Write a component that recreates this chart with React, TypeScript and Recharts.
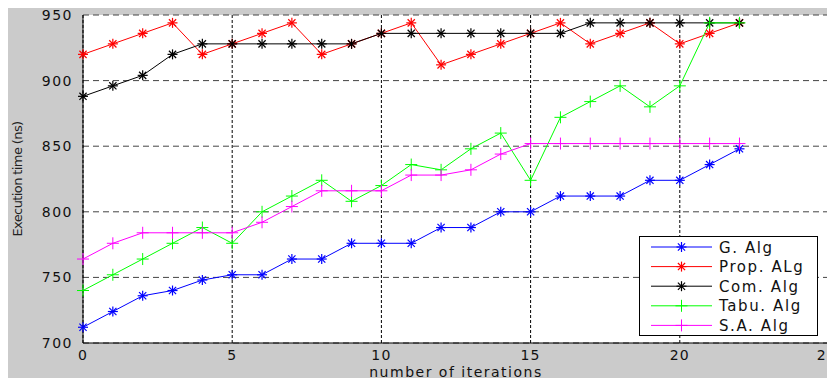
import { CartesianGrid, Line, LineChart, XAxis, YAxis } from "recharts";

const iterations = [0, 1, 2, 3, 4, 5, 6, 7, 8, 9, 10, 11, 12, 13, 14, 15, 16, 17, 18, 19, 20, 21, 22];
const gAlg = [712, 724, 736, 740, 748, 752, 752, 764, 764, 776, 776, 776, 788, 788, 800, 800, 812, 812, 812, 824, 824, 836, 848];
const propAlg = [920, 928, 936, 944, 920, 928, 936, 944, 920, 928, 936, 944, 912, 920, 928, 936, 944, 928, 936, 944, 928, 936, 944];
const comAlg = [888, 896, 904, 920, 928, 928, 928, 928, 928, 928, 936, 936, 936, 936, 936, 936, 936, 944, 944, 944, 944, 944, 944];
const tabuAlg = [740, 752, 764, 776, 788, 776, 800, 812, 824, 808, 820, 836, 832, 848, 860, 824, 872, 884, 896, 880, 896, 944, 944];
const saAlg = [764, 776, 784, 784, 784, 784, 792, 804, 816, 816, 816, 828, 828, 832, 844, 852, 852, 852, 852, 852, 852, 852, 852];
const xTicks = [0, 5, 10, 15, 20, 25];
const yTicks = [700, 750, 800, 850, 900, 950];

const series = [
  { key: "g", name: "G. Alg", color: "#0000ff", mark: "star" },
  { key: "prop", name: "Prop. ALg", color: "#ff0000", mark: "star" },
  { key: "com", name: "Com. Alg", color: "#000000", mark: "star" },
  { key: "tabu", name: "Tabu. Alg", color: "#00ff00", mark: "plus" },
  { key: "sa", name: "S.A. Alg", color: "#ff00ff", mark: "plus" },
];

const rows = iterations.map((it, i) => ({
  it,
  g: gAlg[i],
  prop: propAlg[i],
  com: comAlg[i],
  tabu: tabuAlg[i],
  sa: saAlg[i],
}));

const font = "'DejaVu Sans', sans-serif";

function Marker({ x, y, color, mark }: { x: number; y: number; color: string; mark: string }) {
  if (mark === "plus") {
    const r = 6;
    return (
      <g stroke={color} strokeWidth={1}>
        <line x1={x - r} y1={y} x2={x + r} y2={y} />
        <line x1={x} y1={y - r} x2={x} y2={y + r} />
      </g>
    );
  }
  const r = 5;
  const d = 3.6;
  return (
    <g stroke={color} strokeWidth={1.2}>
      <line x1={x - r} y1={y} x2={x + r} y2={y} />
      <line x1={x} y1={y - r} x2={x} y2={y + r} />
      <line x1={x - d} y1={y - d} x2={x + d} y2={y + d} />
      <line x1={x - d} y1={y + d} x2={x + d} y2={y - d} />
    </g>
  );
}

function makeDot(color: string, mark: string) {
  return (p: any) => {
    if (p.cx == null || p.cy == null) return <g key={p.key} />;
    return <Marker key={p.key} x={p.cx} y={p.cy} color={color} mark={mark} />;
  };
}

function LegendBox() {
  return (
    <div
      style={{
        position: "absolute",
        left: 631,
        top: 231,
        width: 179,
        height: 100,
        background: "#fff",
        border: "1px solid #000",
        boxSizing: "border-box",
      }}
    >
      <svg width={177} height={98}>
        {series.map((s, i) => {
          const y = 10 + i * 19.6;
          return (
            <g key={s.key}>
              <line x1={11} y1={y} x2={72} y2={y} stroke={s.color} strokeWidth={1} />
              <Marker x={41.5} y={y} color={s.color} mark={s.mark} />
              <text
                x={79}
                y={y + 5.5}
                fontFamily={font}
                fontSize={15}
                letterSpacing={1.6}
                fill="#111"
              >
                {s.name}
              </text>
            </g>
          );
        })}
      </svg>
    </div>
  );
}

export default function App() {
  return (
    <div
      style={{
        position: "relative",
        marginTop: -3,
        width: 827,
        height: 373,
        background: "#cbcbcb",
      }}
    >
      <LineChart
        width={827}
        height={373}
        data={rows}
        style={{ overflow: "visible" }}
        margin={{ top: 10, right: 6, left: 0, bottom: 0 }}
      >
        <CartesianGrid
          fill="#ffffff"
          vertical={false}
          stroke="#444"
          strokeDasharray="6 4"
        />
        <CartesianGrid horizontal={false} stroke="#000" strokeDasharray="3 2" />
        <XAxis
          dataKey="it"
          type="number"
          domain={[0, 25]}
          ticks={xTicks}
          height={35}
          tickLine={false}
          tickSize={5}
          axisLine={{ stroke: "#000" }}
          tick={{ fontSize: 14, fill: "#111", fontFamily: font, letterSpacing: 1.2 }}
          label={{
            value: "number of iterations",
            position: "insideBottom",
            offset: 1,
            style: { fontSize: 14, fill: "#111", fontFamily: font, letterSpacing: 1.5 },
          }}
        />
        <XAxis xAxisId="top" orientation="top" height={0} tick={false} tickLine={false} axisLine={{ stroke: "#000" }} />
        <YAxis
          type="number"
          domain={[700, 950]}
          ticks={yTicks}
          width={75}
          tickLine={false}
          tickSize={8}
          axisLine={{ stroke: "#000" }}
          tick={{ fontSize: 14, fill: "#111", fontFamily: font, letterSpacing: 1.5 }}
          label={{
            value: "Execution time (ns)",
            angle: -90,
            position: "insideLeft",
            offset: 9,
            style: { fontSize: 13, fill: "#222", fontFamily: font, letterSpacing: -0.6, textAnchor: "middle" },
          }}
        />
        <YAxis yAxisId="right" orientation="right" width={0} tick={false} tickLine={false} axisLine={{ stroke: "#000" }} />
        {series.map((s) => (
          <Line
            key={s.key}
            dataKey={s.key}
            name={s.name}
            type="linear"
            stroke={s.color}
            strokeWidth={1}
            dot={makeDot(s.color, s.mark)}
            activeDot={false}
            isAnimationActive={false}
          />
        ))}
      </LineChart>
      <LegendBox />
    </div>
  );
}
